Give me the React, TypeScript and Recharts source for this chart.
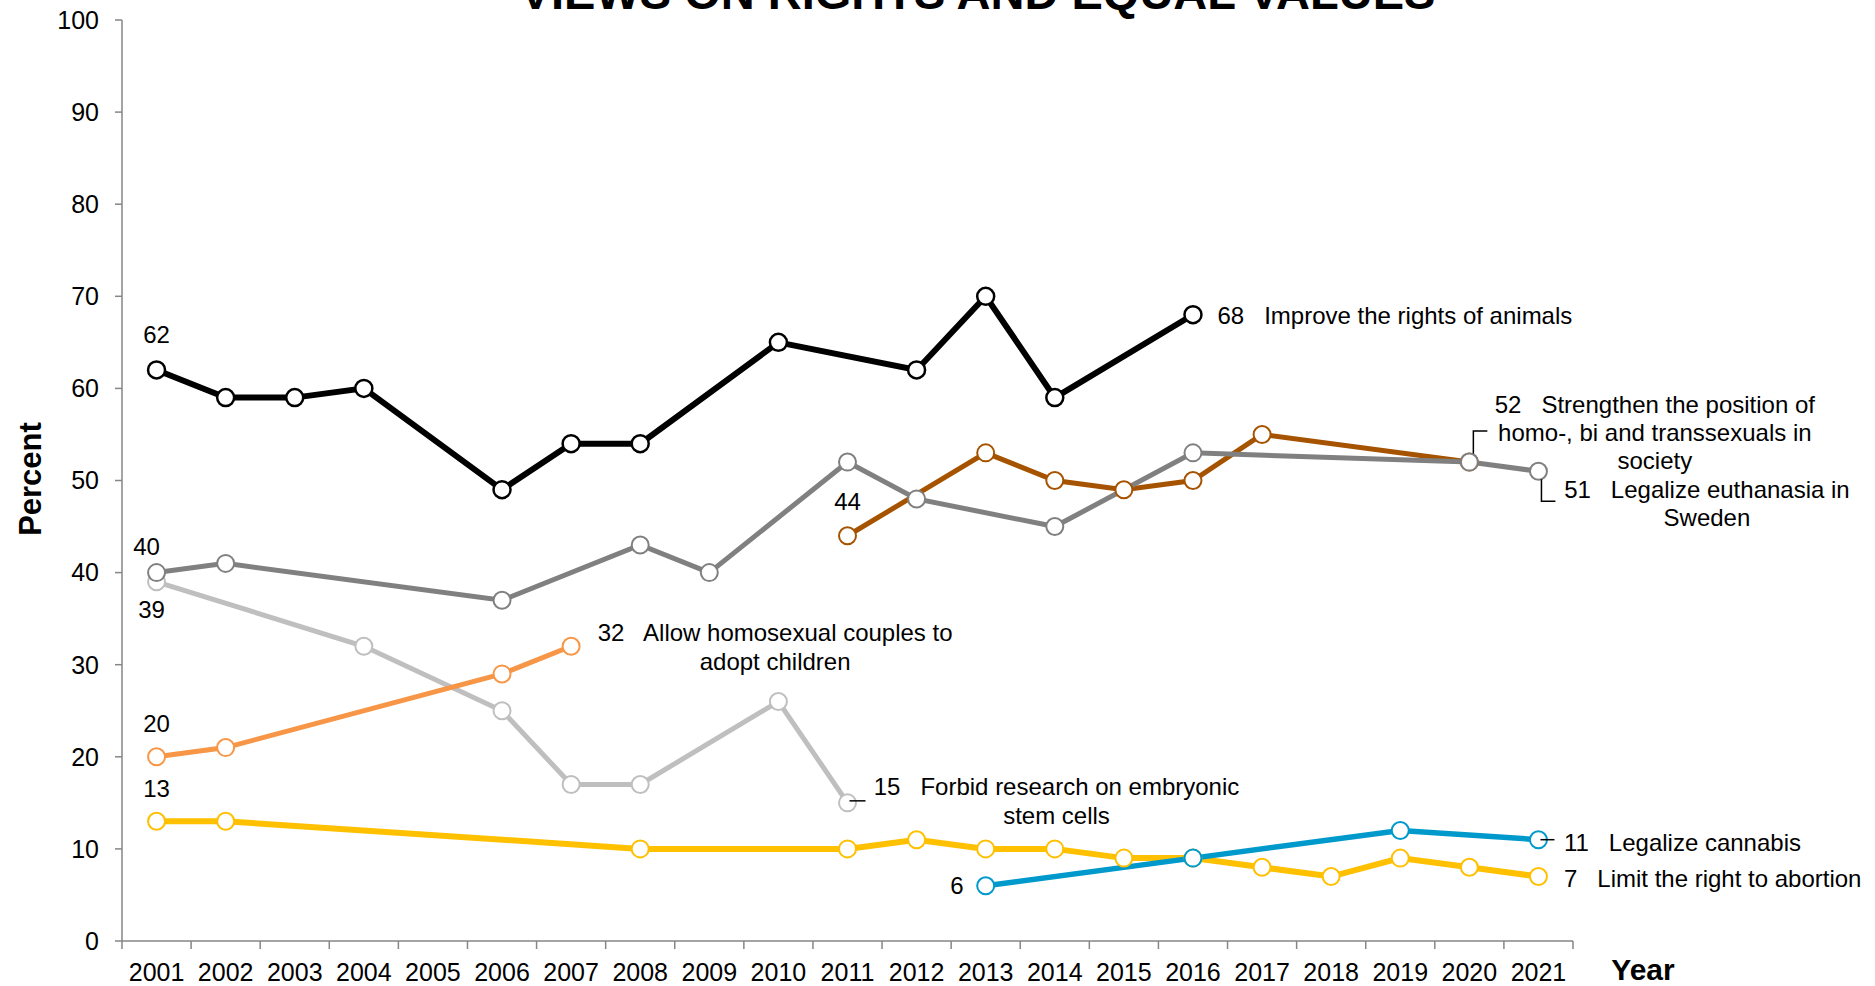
import { LineChart, Line, XAxis, YAxis } from "recharts";

const years = [2001, 2002, 2003, 2004, 2005, 2006, 2007, 2008, 2009, 2010, 2011, 2012, 2013, 2014, 2015, 2016, 2017, 2018, 2019, 2020, 2021];
const yearBounds = [2000.5, 2001.5, 2002.5, 2003.5, 2004.5, 2005.5, 2006.5, 2007.5, 2008.5, 2009.5, 2010.5, 2011.5, 2012.5, 2013.5, 2014.5, 2015.5, 2016.5, 2017.5, 2018.5, 2019.5, 2020.5, 2021.5];
const percentTicks = [0, 10, 20, 30, 40, 50, 60, 70, 80, 90, 100];

// null = not asked that year, the line is drawn across the gap
const animals = [62, 59, 59, 60, null, 49, 54, 54, null, 65, null, 62, 70, 59, null, 68, null, null, null, null, null];
const euthanasia = [40, 41, null, null, null, 37, null, 43, 40, null, 52, 48, null, 45, null, 53, null, null, null, 52, 51];
const lgbt = [null, null, null, null, null, null, null, null, null, null, 44, null, 53, 50, 49, 50, 55, null, null, 52, null];
const stemCells = [39, null, null, 32, null, 25, 17, 17, null, 26, 15, null, null, null, null, null, null, null, null, null, null];
const adoption = [20, 21, null, null, null, 29, 32, null, null, null, null, null, null, null, null, null, null, null, null, null, null];
const abortion = [13, 13, null, null, null, null, null, 10, null, null, 10, 11, 10, 10, 9, 9, 8, 7, 9, 8, 7];
const cannabis = [null, null, null, null, null, null, null, null, null, null, null, null, 6, null, null, 9, null, null, 12, null, 11];

const rows = years.map((year, i) => ({
  year,
  animals: animals[i],
  euthanasia: euthanasia[i],
  lgbt: lgbt[i],
  stemCells: stemCells[i],
  adoption: adoption[i],
  abortion: abortion[i],
  cannabis: cannabis[i],
}));

type Note = {
  year: number;
  lines: string[];
  dx: number;
  dy: number;
  lh?: number;
  anchor: "start" | "middle" | "end";
  leader?: number[][];
};

const animalNotes: Note[] = [
  { year: 2001, lines: [""], dx: 0, dy: -35, anchor: "middle" },
  { year: 2016, lines: ["Improve the rights of animals"], dx: 24.5, dy: 1, anchor: "start" },
];
const euthanasiaNotes: Note[] = [
  { year: 2001, lines: [""], dx: -10, dy: -26, anchor: "middle" },
  { year: 2021, lines: ["Legalize euthanasia in", "Sweden"], dx: 168.5, dy: 18, lh: 28, anchor: "middle", leader: [[3, 8], [3, 30], [17, 30]] },
];
const lgbtNotes: Note[] = [
  { year: 2011, lines: [""], dx: 0, dy: -34, anchor: "middle" },
  { year: 2020, lines: ["Strengthen the position of", "homo-, bi and transsexuals in", "society"], dx: 185.5, dy: -58, lh: 28, anchor: "middle", leader: [[4, -8], [4, -31], [18, -31]] },
];
const stemNotes: Note[] = [
  { year: 2001, lines: [""], dx: -5, dy: 28, anchor: "middle" },
  { year: 2011, lines: ["Forbid research on embryonic", "stem cells"], dx: 209, dy: -16, lh: 28.7, anchor: "middle", leader: [[2, -2], [18, -2]] },
];
const adoptionNotes: Note[] = [
  { year: 2001, lines: [""], dx: 0, dy: -33, anchor: "middle" },
  { year: 2007, lines: ["Allow homosexual couples to", "adopt children"], dx: 204, dy: -13.5, lh: 28.7, anchor: "middle" },
];
const abortionNotes: Note[] = [
  { year: 2001, lines: [""], dx: 0, dy: -33, anchor: "middle" },
  { year: 2021, lines: ["Limit the right to abortion"], dx: 25.5, dy: 1.5, anchor: "start" },
];
const cannabisNotes: Note[] = [
  { year: 2013, lines: [""], dx: -22, dy: 0, anchor: "end" },
  { year: 2021, lines: ["Legalize cannabis"], dx: 25.5, dy: 3, anchor: "start", leader: [[2, 0], [16, 0]] },
];

function makeDot(color: string, notes: Note[], width = 2) {
  return (props: any) => {
    const { cx, cy, index, value } = props;
    const key = `dot-${index}`;
    if (cx == null || cy == null || value == null || Number.isNaN(cy)) return <g key={key} />;
    const note = notes.find((n) => n.year === years[index]);
    return (
      <g key={key}>
        <circle cx={cx} cy={cy} r={8.5} fill="#fff" stroke={color} strokeWidth={width} />
        {note?.leader && (
          <polyline
            points={note.leader.map(([a, b]) => `${cx + a},${cy + b}`).join(" ")}
            fill="none"
            stroke="#000"
            strokeWidth={1.5}
          />
        )}
        {note &&
          note.lines.map((ln, j) => (
            <text
              key={j}
              x={cx + note.dx}
              y={cy + note.dy + j * (note.lh ?? 28)}
              textAnchor={note.anchor}
              dominantBaseline="central"
              fontSize={24}
              fill="#000"
              style={{ whiteSpace: "pre" }}
            >
              {j === 0 ? (ln ? `${value}   ${ln}` : `${value}`) : ln}
            </text>
          ))}
      </g>
    );
  };
}

const axisColor = "#868686";

export default function App() {
  return (
    <div style={{ position: "absolute", left: 0, top: 0, width: 1875, height: 986, background: "#fff", fontFamily: "'Liberation Sans', Arial, sans-serif" }}>
      <LineChart width={1875} height={986} data={rows} margin={{ top: 20, right: 302, bottom: 0, left: 0 }}>
        <XAxis
          xAxisId="marks"
          type="number"
          dataKey="year"
          domain={[2000.5, 2021.5]}
          ticks={yearBounds}
          tickFormatter={() => ""}
          height={1}
          tickSize={8}
          stroke={axisColor}
          strokeWidth={1.5}
          interval={0}
        />
        <XAxis
          xAxisId="years"
          type="number"
          dataKey="year"
          domain={[2000.5, 2021.5]}
          ticks={years}
          tickLine={false}
          axisLine={false}
          height={44}
          tickSize={8}
          tickMargin={13}
          interval={0}
          tick={{ fill: "#000", fontSize: 25 }}
        />
        <YAxis
          width={122}
          domain={[0, 100]}
          ticks={percentTicks}
          interval={0}
          tickSize={7}
          tickMargin={16}
          stroke={axisColor}
          strokeWidth={1.5}
          tick={{ fill: "#000", fontSize: 25 }}
        />
        <Line xAxisId="years" type="linear" dataKey="stemCells" stroke="#bfbfbf" strokeWidth={5} connectNulls dot={makeDot("#bfbfbf", stemNotes)} activeDot={false} isAnimationActive={false} />
        <Line xAxisId="years" type="linear" dataKey="adoption" stroke="#f79646" strokeWidth={5} connectNulls dot={makeDot("#f79646", adoptionNotes)} activeDot={false} isAnimationActive={false} />
        <Line xAxisId="years" type="linear" dataKey="abortion" stroke="#ffc000" strokeWidth={6} connectNulls dot={makeDot("#ffc000", abortionNotes)} activeDot={false} isAnimationActive={false} />
        <Line xAxisId="years" type="linear" dataKey="cannabis" stroke="#0099cc" strokeWidth={5.5} connectNulls dot={makeDot("#0099cc", cannabisNotes)} activeDot={false} isAnimationActive={false} />
        <Line xAxisId="years" type="linear" dataKey="lgbt" stroke="#a65300" strokeWidth={5} connectNulls dot={makeDot("#a65300", lgbtNotes)} activeDot={false} isAnimationActive={false} />
        <Line xAxisId="years" type="linear" dataKey="euthanasia" stroke="#808080" strokeWidth={5} connectNulls dot={makeDot("#808080", euthanasiaNotes)} activeDot={false} isAnimationActive={false} />
        <Line xAxisId="years" type="linear" dataKey="animals" stroke="#000" strokeWidth={6} connectNulls dot={makeDot("#000", animalNotes, 2.5)} activeDot={false} isAnimationActive={false} />
      </LineChart>
      <svg width={1875} height={986} style={{ position: "absolute", left: 0, top: 0, pointerEvents: "none" }}>
        <text x={977.5} y={9} textAnchor="middle" fontSize={47} fontWeight="bold" fill="#000">
          VIEWS ON RIGHTS AND EQUAL VALUES
        </text>
        <text x={30} y={479} transform="rotate(-90, 30, 479)" textAnchor="middle" dominantBaseline="central" fontSize={31} fontWeight="bold" fill="#000">
          Percent
        </text>
        <text x={1643} y={969} textAnchor="middle" dominantBaseline="central" fontSize={30} fontWeight="bold" fill="#000">
          Year
        </text>
      </svg>
    </div>
  );
}
